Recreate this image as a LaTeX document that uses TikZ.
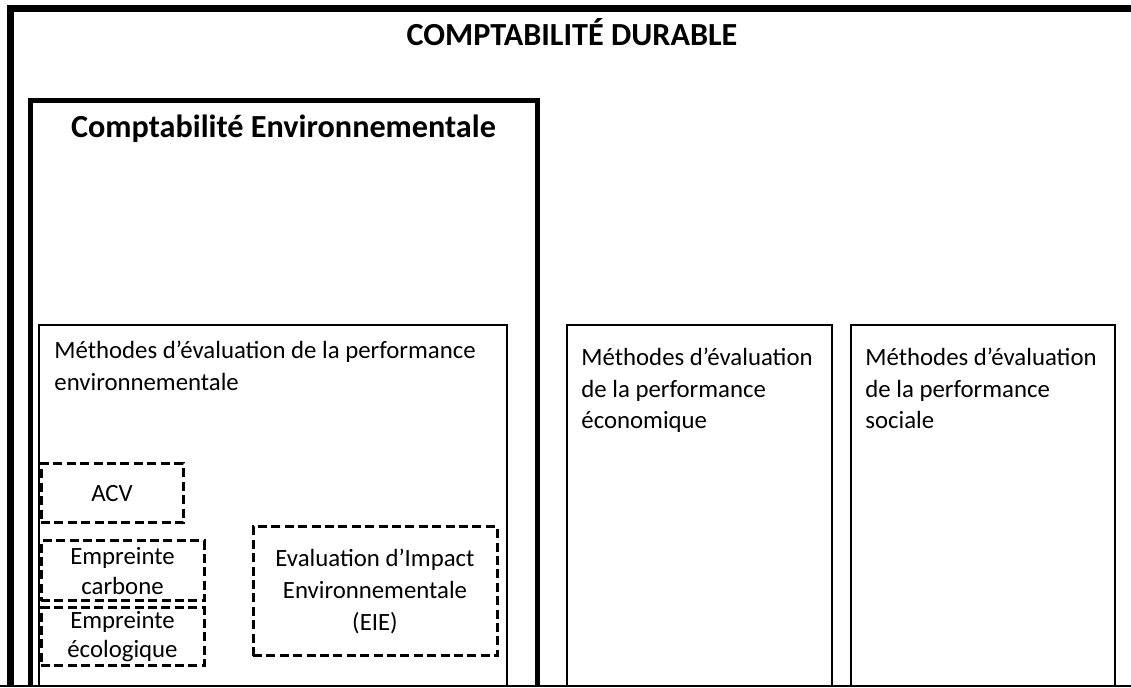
\documentclass[tikz,border=0pt]{standalone}
\usepackage{fontspec}
\setmainfont{Carlito}
\usetikzlibrary{positioning}

\begin{document}
\begin{tikzpicture}[x=0.5pt,y=-0.5pt]
	\tikzset{
		outer/.style={draw=black, line width=3.5pt},
		env/.style={draw=black, line width=2.5pt},
		meth/.style={draw=black, line width=1.4pt},
		dbox/.style={draw=black, line width=1.5pt, dash pattern=on 4.5pt off 2.2pt,
			align=center, inner sep=0pt, font=\fontsize{12.4}{14.6}\selectfont},
		ttl/.style={font=\fontsize{16.1}{19}\selectfont\bfseries, inner sep=0pt, anchor=base},
		txt/.style={font=\fontsize{12.4}{15.6}\selectfont, align=left, inner sep=0pt, anchor=north west}
	}
	\useasboundingbox (0,0) rectangle (1131,688);
	
	% cadres
	\draw[outer] (10,686) -- (10,9) -- (1131,9);
	\draw[env] (30,686) -- (30,100.5) -- (537,100.5) -- (537,686);
	\draw[meth] (39,686) -- (39,325) -- (507,325) -- (507,686);
	\draw[meth] (567,686) -- (567,325) -- (832,325) -- (832,686);
	\draw[meth] (851,686) -- (851,325) -- (1115,325) -- (1115,686);
	\draw[line width=0.6pt] (0,686) -- (1131,686);
	
	% titres
	\node[ttl] (durable) at (572,46) {COMPTABILITÉ DURABLE};
	\node[ttl] (envtitle) at (283.5,138) {Comptabilité Environnementale};
	
	\node[txt] (menv) at (54,341) {Méthodes d’évaluation de la performance\\environnementale};
	\node[txt] (meco) at (581,348) {Méthodes d’évaluation\\de la performance\\économique};
	\node[txt] (msoc) at (865,348) {Méthodes d’évaluation\\de la performance\\sociale};
	
	% methodes environnementales
	\node[dbox, minimum width=71pt, minimum height=29.5pt] (acv) at (112,493.5) {ACV};
	\node[dbox, minimum width=81.5pt, minimum height=30pt] (carbone) at (122.5,571) {Empreinte\\carbone};
	\node[dbox, minimum width=81.5pt, minimum height=29pt] (eco) at (122.5,637) {Empreinte\\écologique};
	\node[dbox, minimum width=122pt, minimum height=64.5pt, font=\fontsize{12.4}{15.8}\selectfont] (eie) at (375,591.5) {Evaluation d’Impact\\Environnementale\\(EIE)};
\end{tikzpicture}
\end{document}
